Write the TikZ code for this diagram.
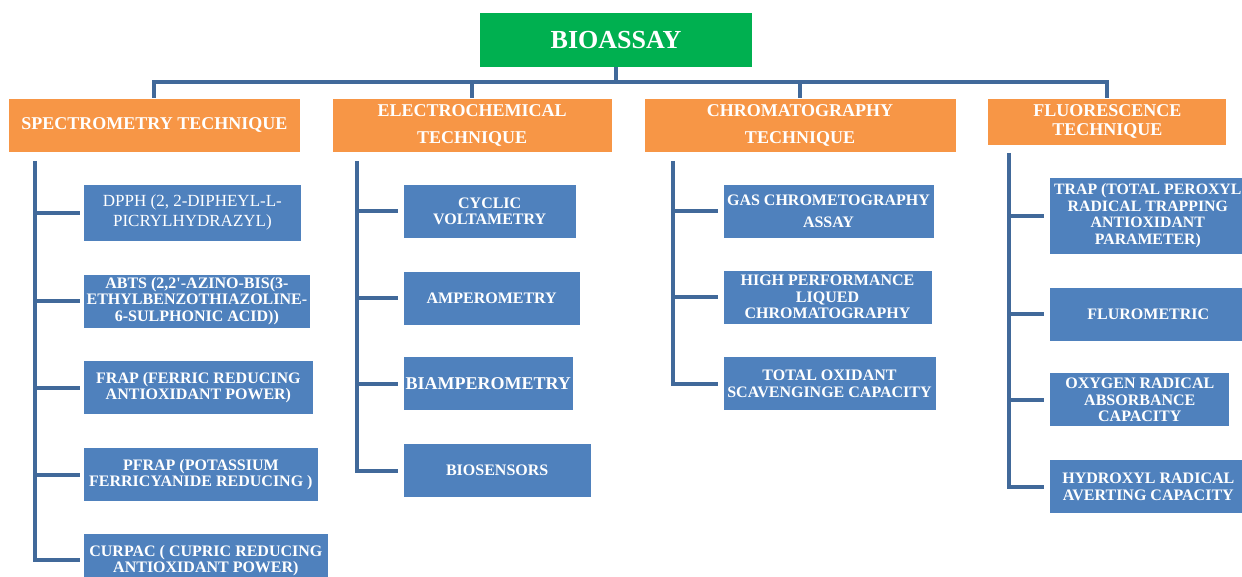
\documentclass[tikz,border=0pt]{standalone}
\usepackage{fontspec}
\setmainfont{Liberation Serif}
\usetikzlibrary{positioning}

\definecolor{bgreen}{HTML}{00B050}
\definecolor{borange}{HTML}{F79646}
\definecolor{bblue}{HTML}{4F81BD}
\definecolor{blink}{HTML}{41699A}

\begin{document}
\begin{tikzpicture}[x=1pt, y=-1pt,
        top/.style={rectangle, fill=bgreen, text=white, font=\fontsize{26}{30}\selectfont\bfseries, minimum width=272pt, minimum height=54pt},
        tech/.style={rectangle, fill=borange, draw=white, line width=0.8pt, text=white, font=\fontsize{18}{27}\selectfont\bfseries, align=center, minimum height=54pt, inner sep=1pt},
        item/.style={rectangle, fill=bblue, draw=white, line width=0.8pt, text=white, font=\fontsize{16}{16.5}\selectfont\bfseries, align=center, minimum height=54pt, inner sep=1pt},
        link/.style={draw=blink, line width=4pt}
    ]
        \useasboundingbox (0,0) rectangle (1242,577);

        % Root
        \node[top] (bioassay) at (616,40) {BIOASSAY};

        % Techniques
        \node[tech, minimum width=292pt, anchor=north west] (spec) at (8,98) {SPECTROMETRY TECHNIQUE};
        \node[tech, minimum width=280pt, right=31pt of spec.north east, anchor=north west] (elec) {ELECTROCHEMICAL\\TECHNIQUE};
        \node[tech, minimum width=312pt, right=31pt of elec.north east, anchor=north west] (chrom) {CHROMATOGRAPHY\\TECHNIQUE};
        \node[tech, minimum width=239pt, minimum height=47pt, font=\fontsize{18}{19}\selectfont\bfseries, right=31pt of chrom.north east, anchor=north west] (fluo) {FLUORESCENCE\\TECHNIQUE};

        % Spectrometry
        \node[item, minimum width=218pt, minimum height=57pt, font=\fontsize{17}{20}\selectfont, below right=31pt and 75pt of spec.south west, anchor=north west] (dpph) {DPPH (2, 2-DIPHEYL-L-\\PICRYLHYDRAZYL)};
        \node[item, minimum width=227pt, below=32pt of dpph.south west, anchor=north west] (abts) {ABTS (2,2\textquotesingle-AZINO-BIS(3-\\ETHYLBENZOTHIAZOLINE-\\6-SULPHONIC ACID))};
        \node[item, minimum width=230pt, below=32pt of abts.south west, anchor=north west] (frap) {FRAP (FERRIC REDUCING\\ANTIOXIDANT POWER)};
        \node[item, minimum width=235pt, below=32pt of frap.south west, anchor=north west] (pfrap) {PFRAP (POTASSIUM\\FERRICYANIDE REDUCING )};
        \node[item, minimum width=245pt, below=31pt of pfrap.south west, anchor=north west] (curpac) {CURPAC ( CUPRIC REDUCING\\ANTIOXIDANT POWER)};

        % Electrochemical
        \node[item, minimum width=173pt, below right=31pt and 71pt of elec.south west, anchor=north west] (cyclic) {CYCLIC\\VOLTAMETRY};
        \node[item, minimum width=177pt, below=32pt of cyclic.south west, anchor=north west] (amper) {AMPEROMETRY};
        \node[item, minimum width=170pt, font=\fontsize{18}{19}\selectfont\bfseries, below=31pt of amper.south west, anchor=north west] (biamper) {BIAMPEROMETRY};
        \node[item, minimum width=188pt, below=32pt of biamper.south west, anchor=north west] (biosens) {BIOSENSORS};

        % Chromatography
        \node[item, minimum width=211pt, below right=31pt and 79pt of chrom.south west, anchor=north west] (gas) {GAS CHROMETOGRAPHY\\[6pt]ASSAY};
        \node[item, minimum width=209pt, below=31pt of gas.south west, anchor=north west] (hplc) {HIGH PERFORMANCE\\LIQUED\\CHROMATOGRAPHY};
        \node[item, minimum width=213pt, below=32pt of hplc.south west, anchor=north west] (toxid) {TOTAL OXIDANT\\SCAVENGINGE CAPACITY};

        % Fluorescence
        \node[item, minimum width=196pt, minimum height=77pt, font=\fontsize{15.8}{16.5}\selectfont\bfseries, below right=31pt and 62pt of fluo.south west, anchor=north west] (trap) {TRAP (TOTAL PEROXYL\\RADICAL TRAPPING\\ANTIOXIDANT\\PARAMETER)};
        \node[item, minimum width=197pt, below=32pt of trap.south west, anchor=north west] (flurom) {FLUROMETRIC};
        \node[item, minimum width=180pt, below=31pt of flurom.south west, anchor=north west] (oxygen) {OXYGEN RADICAL\\ABSORBANCE\\CAPACITY};
        \node[item, minimum width=197pt, below=32pt of oxygen.south west, anchor=north west] (hydroxyl) {HYDROXYL RADICAL\\AVERTING CAPACITY};

        % Top bar
        \coordinate (bar) at ([yshift=-15pt]bioassay.south);
        \draw[link] (bioassay.south) -- (bar);
        \draw[link] (spec.north) |- (bar) -| (fluo.north);
        \draw[link] (elec.north) -- (elec.north |- bar);
        \draw[link] (chrom.north) -- (chrom.north |- bar);

        % Spines
        \draw[link, shorten >=3pt] ([xshift=27pt, yshift=-8pt]spec.south west) coordinate (sp1) |- (curpac.west);
        \draw[link, shorten >=3pt] (sp1 |- dpph.west) -- (dpph.west);
        \draw[link, shorten >=3pt] (sp1 |- abts.west) -- (abts.west);
        \draw[link, shorten >=3pt] (sp1 |- frap.west) -- (frap.west);
        \draw[link, shorten >=3pt] (sp1 |- pfrap.west) -- (pfrap.west);

        \draw[link, shorten >=5pt] ([xshift=25pt, yshift=-8pt]elec.south west) coordinate (sp2) |- (biosens.west);
        \draw[link, shorten >=5pt] (sp2 |- cyclic.west) -- (cyclic.west);
        \draw[link, shorten >=5pt] (sp2 |- amper.west) -- (amper.west);
        \draw[link, shorten >=5pt] (sp2 |- biamper.west) -- (biamper.west);

        \draw[link, shorten >=5pt] ([xshift=29pt, yshift=-8pt]chrom.south west) coordinate (sp3) |- (toxid.west);
        \draw[link, shorten >=5pt] (sp3 |- gas.west) -- (gas.west);
        \draw[link, shorten >=5pt] (sp3 |- hplc.west) -- (hplc.west);

        \draw[link, shorten >=5pt] ([xshift=22pt, yshift=-7pt]fluo.south west) coordinate (sp4) |- (hydroxyl.west);
        \draw[link, shorten >=5pt] (sp4 |- trap.west) -- (trap.west);
        \draw[link, shorten >=5pt] (sp4 |- flurom.west) -- (flurom.west);
        \draw[link, shorten >=5pt] (sp4 |- oxygen.west) -- (oxygen.west);

    \end{tikzpicture}
\end{document}
